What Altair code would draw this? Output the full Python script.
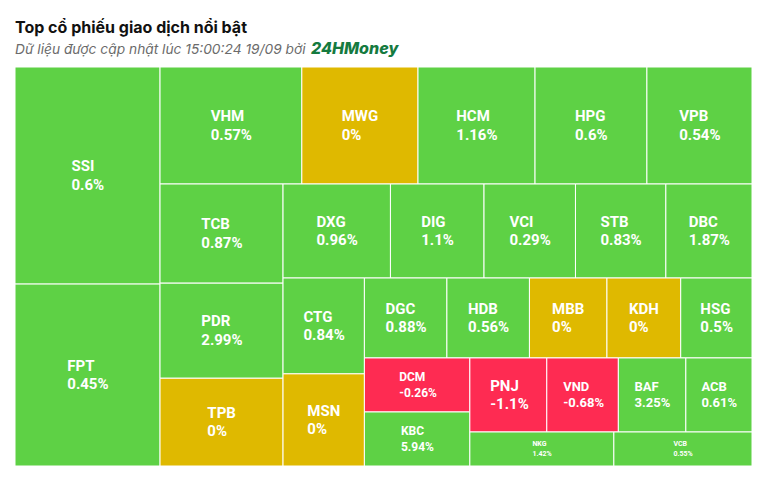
import math
import altair as alt
import pandas as pd

# ---- data ----
tickers = ["SSI", "FPT", "VHM", "MWG", "HCM", "HPG", "VPB", "TCB", "PDR", "TPB",
           "DXG", "DIG", "VCI", "STB", "DBC", "CTG", "MSN", "DGC", "HDB", "MBB",
           "KDH", "HSG", "DCM", "KBC", "PNJ", "VND", "BAF", "ACB", "NKG", "VCB"]
changes = [0.6, 0.45, 0.57, 0, 1.16, 0.6, 0.54, 0.87, 2.99, 0,
           0.96, 1.1, 0.29, 0.83, 1.87, 0.84, 0, 0.88, 0.56, 0,
           0, 0.5, -0.26, 5.94, -1.1, -0.68, 3.25, 0.61, 1.42, 0.55]
# relative trading value (size of each tile)
values = [315, 264, 166, 136, 137, 131, 123, 122, 117, 108,
          101, 88, 86, 85, 81, 78, 75, 66, 66, 62,
          59, 57, 57, 57, 57, 53, 50, 49, 49, 47]

title_text = "Top cổ phiếu giao dịch nổi bật"
subtitle_text = "Dữ liệu được cập nhật lúc 15:00:24 19/09 bởi"
brand_text = "24HMoney"

GREEN, YELLOW, RED = "#5ed145", "#dfb900", "#fe2b52"
W, H = 737, 399  # plot area in pixels (layout space = pixels)


def squarify(vals, x0, y0, w, h):
    """Squarified treemap with alternating strip direction."""
    total = float(sum(vals))
    areas = [v * w * h / total for v in vals]
    rects, i, n = [], 0, len(areas)
    vertical = w >= h
    while i < n:
        side = h if vertical else w

        def worst(r):
            t = sum(r) / side
            return max(max(t / (a / t), (a / t) / t) for a in r)

        row, j = [areas[i]], i + 1
        while j < n and worst(row + [areas[j]]) <= worst(row):
            row.append(areas[j])
            j += 1
        t = sum(row) / side
        if vertical:
            yy = y0
            for a in row:
                ln = a / t
                rects.append((x0, yy, x0 + t, yy + ln))
                yy += ln
            x0 += t
            w -= t
        else:
            xx = x0
            for a in row:
                ln = a / t
                rects.append((xx, y0, xx + ln, y0 + t))
                xx += ln
            y0 += t
            h -= t
        vertical = not vertical
        i = j
    return rects


CW = {"0": .5615, "1": .5615, "2": .5615, "3": .5615, "4": .5615, "5": .5615,
      "6": .5615, "7": .5615, "8": .5615, "9": .5615, ".": .28, "%": .735, "-": .285,
      "A": .668, "B": .636, "C": .652, "D": .648, "E": .56, "F": .548, "G": .68,
      "H": .712, "I": .29, "J": .552, "K": .632, "L": .54, "M": .874, "N": .71,
      "O": .688, "P": .64, "Q": .688, "R": .625, "S": .608, "T": .618, "U": .655,
      "V": .65, "W": .88, "X": .634, "Y": .618, "Z": .6}


def em_w(s):
    return sum(CW.get(c, .6) for c in s)


rects = squarify(values, 0, 0, W, H)
rows = []
for t, c, (x0, y0, x1, y1) in zip(tickers, changes, rects):
    w, h = x1 - x0, y1 - y0
    label = f"{c:g}%"
    em = max(em_w(t), em_w(label))
    fs = math.floor(min(15, 0.55 * w / em, h / 4.5))
    sp = fs * 1.1 + 2
    mw = em * fs
    cx, cy = (x0 + x1) / 2, (y0 + y1) / 2
    rows.append(dict(ticker=t, label=label,
                     status="up" if c > 0 else ("flat" if c == 0 else "down"),
                     x0=x0, x1=x1, y0=y0, y1=y1, fs=fs,
                     tx=cx - mw / 2, ty1=cy - sp / 2, ty2=cy + sp / 2))
df = pd.DataFrame(rows)

xs = alt.Scale(domain=[0, W], nice=False, zero=False)
ys = alt.Scale(domain=[0, H], nice=False, zero=False, reverse=True)

base = alt.Chart(df)
tiles = base.mark_rect(stroke="white", strokeWidth=1).encode(
    x=alt.X("x0:Q", scale=xs, axis=None),
    x2="x1:Q",
    y=alt.Y("y0:Q", scale=ys, axis=None),
    y2="y1:Q",
    color=alt.Color("status:N",
                    scale=alt.Scale(domain=["up", "flat", "down"], range=[GREEN, YELLOW, RED]),
                    legend=None),
)
tick_txt = base.mark_text(align="left", baseline="middle", font="Roboto",
                          fontWeight="bold", color="white").encode(
    x=alt.X("tx:Q", scale=xs, axis=None),
    y=alt.Y("ty1:Q", scale=ys, axis=None),
    text="ticker:N",
    size=alt.Size("fs:Q", scale=None),
)
pct_txt = base.mark_text(align="left", baseline="middle", font="Roboto",
                         fontWeight="bold", color="white").encode(
    x=alt.X("tx:Q", scale=xs, axis=None),
    y=alt.Y("ty2:Q", scale=ys, axis=None),
    text="label:N",
    size=alt.Size("fs:Q", scale=None),
)

title = alt.Chart(pd.DataFrame({"t": [title_text]})).mark_text(
    align="left", baseline="alphabetic", font="Inter", fontSize=16,
    fontWeight="bold", color="#111111").encode(
    x=alt.value(0), y=alt.value(-34), text="t:N")
subtitle = alt.Chart(pd.DataFrame({"t": [subtitle_text]})).mark_text(
    align="left", baseline="alphabetic", font="Inter", fontSize=13.75,
    fontStyle="italic", color="#6b6b6b").encode(
    x=alt.value(0), y=alt.value(-13), text="t:N")
brand = alt.Chart(pd.DataFrame({"t": [brand_text]})).mark_text(
    align="left", baseline="alphabetic", font="Inter", fontSize=16,
    fontWeight=800, fontStyle="italic", color="#157a3f").encode(
    x=alt.value(296), y=alt.value(-13), text="t:N")

chart = alt.layer(tiles, tick_txt, pct_txt, title, subtitle, brand).properties(
    width=W, height=H,
    autosize=alt.AutoSizeParams(type="none"),
    padding={"left": 7, "top": 59, "right": 10, "bottom": 10},
    background="white",
).configure_view(stroke=None)

chart.save("out.html", embed_options={"renderer": "svg", "actions": False})
